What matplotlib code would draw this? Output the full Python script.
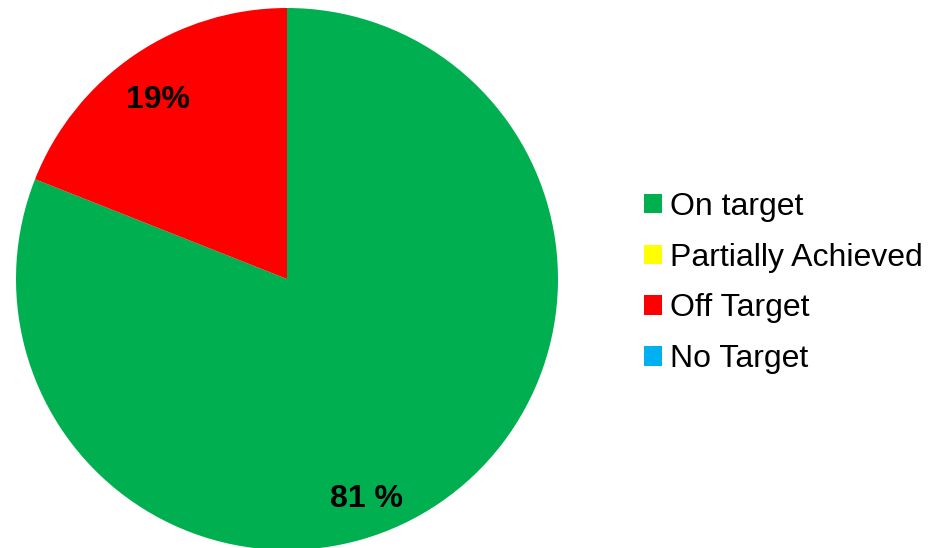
import matplotlib
matplotlib.use("Agg")
import matplotlib.pyplot as plt
from matplotlib.patches import Patch

plt.rcParams['font.family'] = ['Liberation Sans', 'DejaVu Sans']

categories = ["On target", "Partially Achieved", "Off Target", "No Target"]
values = [81, 0, 19, 0]
colors = ["#00B050", "#FFFF00", "#FF0000", "#00B0F0"]
label_texts = ["81 %", "", "19%", ""]

W, H = 930, 548
fig = plt.figure(figsize=(W / 100, H / 100), dpi=100)
cx, cy, r = 287, 279, 271
ax = fig.add_axes([(cx - r) / W, (H - cy - r) / H, 2 * r / W, 2 * r / H])

pie_vals = [v for v in values if v > 0]
pie_cols = [c for v, c in zip(values, colors) if v > 0]
wedges, _ = ax.pie(pie_vals, colors=pie_cols, startangle=90, counterclock=False,
                   radius=1.0, wedgeprops=dict(linewidth=0))
ax.set_xlim(-1, 1)
ax.set_ylim(-1, 1)
ax.set_aspect('equal')
ax.axis('off')

# data labels
ax.text(0.295, -0.812, label_texts[0], ha='center', va='center',
        fontsize=23, fontweight='bold', color='black')
ax.text(-0.476, 0.662, label_texts[2], ha='center', va='center',
        fontsize=23, fontweight='bold', color='black')

handles = [Patch(facecolor=c, edgecolor='none') for c in colors]
fig.legend(handles, categories, loc='center left',
           bbox_to_anchor=(644 / W, 1 - 283 / H), frameon=False,
           fontsize=23, handlelength=0.56, handleheight=0.56,
           handletextpad=0.25, labelspacing=0.65, borderpad=0, borderaxespad=0)

fig.savefig("out.png", dpi=100)
